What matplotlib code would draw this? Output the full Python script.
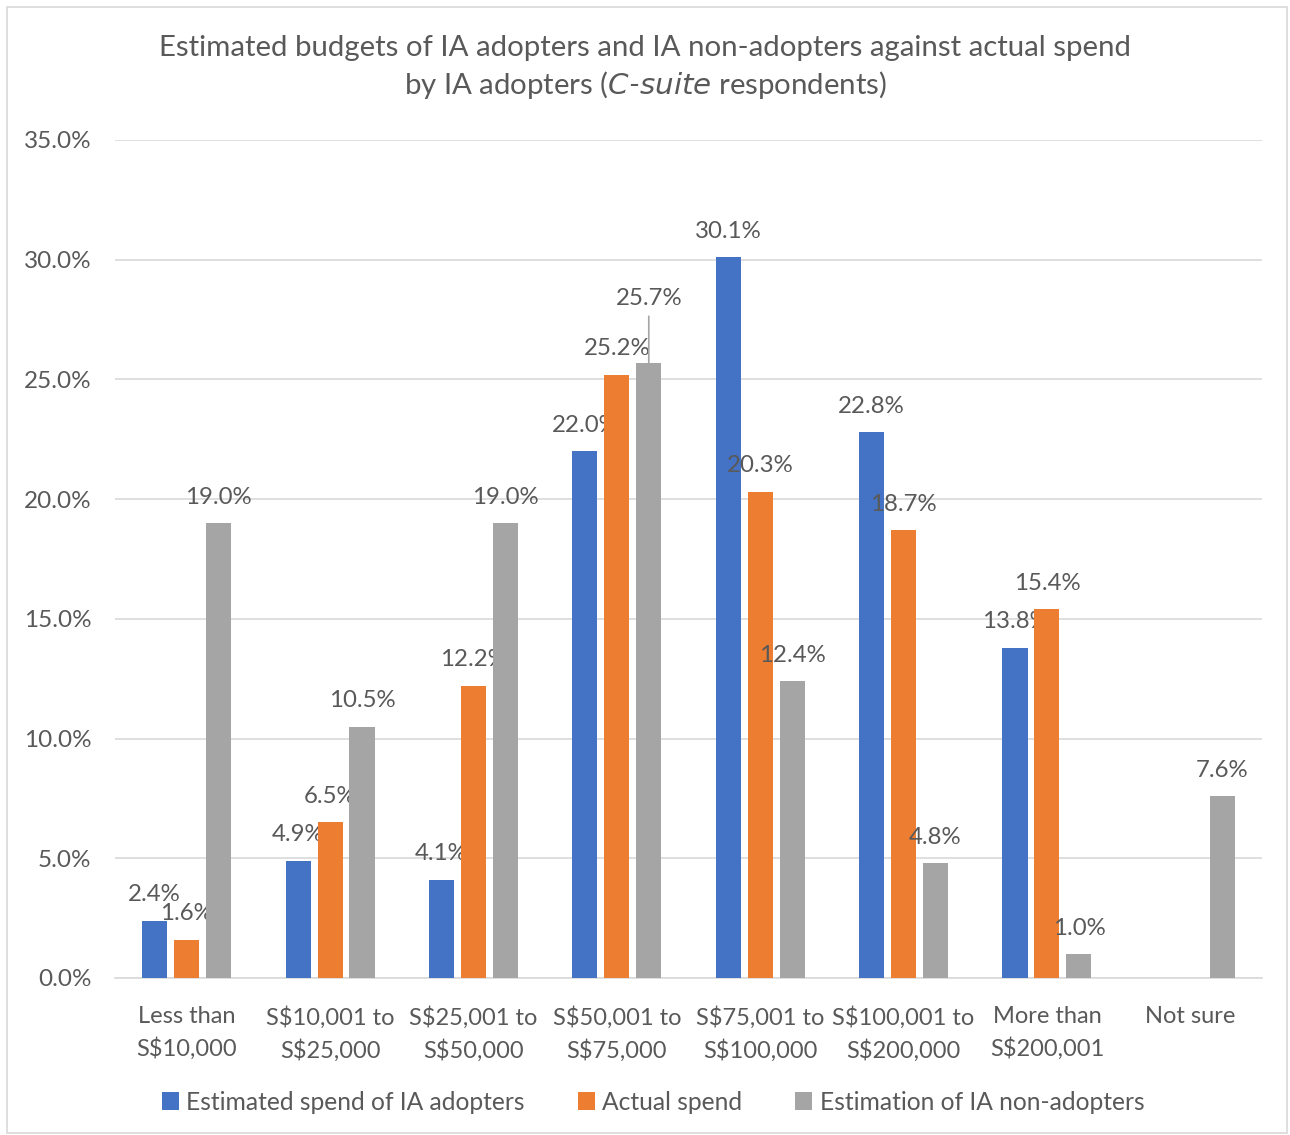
import matplotlib
matplotlib.use("Agg")
import matplotlib.pyplot as plt
from matplotlib.patches import Rectangle
import numpy as np

categories = ["Less than\nS$10,000", "S$10,001 to\nS$25,000", "S$25,001 to\nS$50,000",
              "S$50,001 to\nS$75,000", "S$75,001 to\nS$100,000", "S$100,001 to\nS$200,000",
              "More than\nS$200,001", "Not sure"]
estimated_adopters = [2.4, 4.9, 4.1, 22.0, 30.1, 22.8, 13.8, np.nan]
actual_spend = [1.6, 6.5, 12.2, 25.2, 20.3, 18.7, 15.4, np.nan]
non_adopters = [19.0, 10.5, 19.0, 25.7, 12.4, 4.8, 1.0, 7.6]
series_names = ["Estimated spend of IA adopters", "Actual spend", "Estimation of IA non-adopters"]
y_ticks = [0, 5, 10, 15, 20, 25, 30, 35]

colors = ["#4472C4", "#ED7D31", "#A5A5A5"]
text_color = "#595959"
plt.rcParams['font.family'] = ['Lato', 'DejaVu Sans']

fig = plt.figure(figsize=(12.9, 11.35), dpi=100)
fig.patches.append(Rectangle((7/1290, 2/1135), 1280/1290, 1126/1135, transform=fig.transFigure,
                             fill=False, edgecolor="#D9D9D9", linewidth=1.2))
ax = fig.add_axes([115/1290, 1 - 978/1135, (1262-115)/1290, (978-140)/1135])

x = np.arange(len(categories))
width = 0.175
offset = 0.223
all_series = [estimated_adopters, actual_spend, non_adopters]
for i, (vals, name, c) in enumerate(zip(all_series, series_names, colors)):
    xs = x + (i - 1) * offset
    ax.bar(xs, vals, width=width, color=c, label=name, zorder=3)
    for xi, v in zip(xs, vals):
        if np.isnan(v):
            continue
        if i == 2 and v == 25.7:
            ax.annotate(f"{v:.1f}%", xy=(xi, v), xytext=(0, 46), textcoords="offset points",
                        ha="center", va="center", fontsize=17.3, color=text_color,
                        arrowprops=dict(arrowstyle="-", color="#A5A5A5", lw=1.2,
                                        shrinkA=3, shrinkB=0))
        else:
            ax.annotate(f"{v:.1f}%", xy=(xi, v), xytext=(0, 18.7), textcoords="offset points",
                        ha="center", va="center", fontsize=17.3, color=text_color)

ax.set_xlim(-0.5, len(categories) - 0.5)
ax.set_ylim(0, 35)
ax.set_yticks(y_ticks)
ax.set_yticklabels([f"{t:.1f}%" for t in y_ticks])
ax.set_xticks(x)
ax.set_xticklabels(categories, linespacing=1.55)
ax.tick_params(axis="both", length=0, colors=text_color)
ax.tick_params(axis="x", pad=20, labelsize=17)
ax.tick_params(axis="y", pad=17, labelsize=17.5)
ax.grid(axis="y", color="#D9D9D9", linewidth=1.2, zorder=0)
for s in ["top", "right", "left"]:
    ax.spines[s].set_visible(False)
ax.spines["bottom"].set_color("#D9D9D9")
ax.spines["bottom"].set_linewidth(1.2)

fig.text(0.5, 1 - 68/1135, "Estimated budgets of IA adopters and IA non-adopters against actual spend\n"
         "by IA adopters ($\\it{C}$-$\\it{suite}$ respondents)",
         ha="center", va="center", fontsize=21.2, color=text_color, linespacing=1.35)

ax.legend(loc="center", bbox_to_anchor=(0.5 + 8/1290, 1 - 1102/1135), bbox_transform=fig.transFigure,
          ncol=3, frameon=False, fontsize=17.7, labelcolor=text_color, handlelength=0.7,
          handleheight=0.7, handletextpad=0.3, columnspacing=2.15)

fig.savefig("out.png", dpi=100)
